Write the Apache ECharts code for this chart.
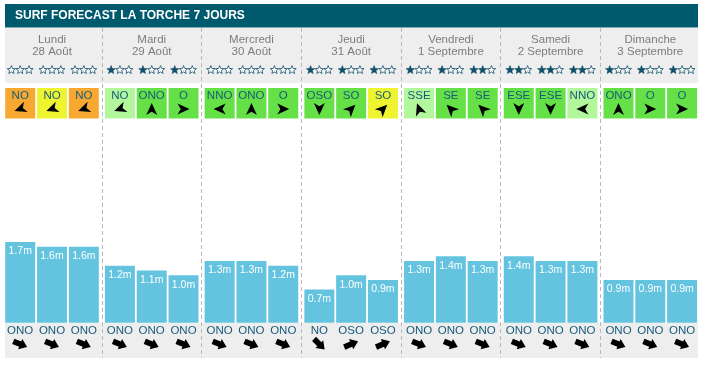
<!DOCTYPE html>
<html><head><meta charset="utf-8">
<script src="https://cdn.jsdelivr.net/npm/echarts@6/dist/echarts.min.js"></script>
<style>html,body{margin:0;padding:0;background:#fff}#c{width:705px;height:366px}</style>
</head><body><div id="c"></div>
<script>
// ---------- data ----------
const chartTitle = 'SURF FORECAST LA TORCHE 7 JOURS';
const days = ['Lundi\n28 Août','Mardi\n29 Août','Mercredi\n30 Août','Jeudi\n31 Août','Vendredi\n1 Septembre','Samedi\n2 Septembre','Dimanche\n3 Septembre'];
const stars = [[0,0,0],[1,1,1],[0,0,0],[1,1,1],[1,1,2],[2,2,2],[1,1,1]];
const windDir = [['NO','NO','NO'],['NO','ONO','O'],['NNO','ONO','O'],['OSO','SO','SO'],['SSE','SE','SE'],['ESE','ESE','NNO'],['ONO','O','O']];
const windLevel = [['orange','yellow','orange'],['light','green','green'],['green','green','green'],['green','green','yellow'],['light','green','green'],['green','green','light'],['green','green','green']];
const waveHeight = [[1.7,1.6,1.6],[1.2,1.1,1.0],[1.3,1.3,1.2],[0.7,1.0,0.9],[1.3,1.4,1.3],[1.4,1.3,1.3],[0.9,0.9,0.9]];
const swellDir = [['ONO','ONO','ONO'],['ONO','ONO','ONO'],['ONO','ONO','ONO'],['NO','OSO','OSO'],['ONO','ONO','ONO'],['ONO','ONO','ONO'],['ONO','ONO','ONO']];

// ---------- style ----------
const FONT = 'Liberation Sans, Arial, sans-serif';
const TEAL = '#165b7a';
const STAR_COLOR = '#0f4f6b';
const LEVEL_COLORS = {orange:'#f7a830', yellow:'#eef530', light:'#b2f79c', green:'#66e047'};
const COMPASS = {N:0,NNE:22.5,NE:45,ENE:67.5,E:90,ESE:112.5,SE:135,SSE:157.5,S:180,SSO:202.5,SO:225,OSO:247.5,O:270,ONO:292.5,NO:315,NNO:337.5};
// on-screen angle (deg, counter-clockwise from east) of the wind arrow icon as drawn in the source
const WIND_ICON_ANGLE = {O:0, ONO:90, NO:200, NNO:180, OSO:270, SO:45, SSE:110, SE:135, ESE:270};
const BAR_W = 30, BAR_GAP_PCT = 6, SLOT = BAR_W * (1 + BAR_GAP_PCT/100);
const GRID_LEFT = 2.15, GRID_W = 698;
const NAV_ARROW = 'M12 5 L0 0 L3.2 5 L0 10 Z';
const BLOCK_ARROW = 'M0 2.4 L6.5 2.4 L6.5 0 L13 5 L6.5 10 L6.5 7.6 L0 7.6 Z';
const STAR_PITCH = 8.8, STAR_R = 4.4, STAR_R0 = 1.9;

const slots = [0,1,2];
const flat = [];
days.forEach((d,i)=>slots.forEach(s=>flat.push([i,s])));

function slotX(api, d, s){ return api.coord([d, 0])[0] + (s-1)*SLOT; }
function starPoints(cx, cy){
  const pts = [];
  for (let k = 0; k < 10; k++) {
    const r = k % 2 ? STAR_R0 : STAR_R;
    const a = -Math.PI/2 + k*Math.PI/5;
    pts.push([cx + r*Math.cos(a), cy + r*Math.sin(a)]);
  }
  return pts;
}

const chart = echarts.init(document.getElementById('c'), null, {renderer:'canvas'});
const grids = [
  {left:GRID_LEFT, width:GRID_W, top:28, height:330},   // frame / separators / header
  {left:GRID_LEFT, width:GRID_W, top:88, height:30.5},  // wind boxes
  {left:GRID_LEFT, width:GRID_W, top:132.7, height:190} // wave bars
];
const xAxes = grids.map((g,i)=>({
  gridIndex:i, type:'category', data:days, boundaryGap:true,
  axisLine:{show:false}, axisTick:{show:false}, axisLabel:{show:false},
  splitLine: i===0 ? {show:true, showMinLine:false, showMaxLine:false, lineStyle:{color:'#b8b8b8', type:[4,3], width:1}} : {show:false}
}));
const yAxes = [
  {gridIndex:0, type:'value', min:0, max:1, show:false},
  {gridIndex:1, type:'value', min:0, max:1, show:false},
  {gridIndex:2, type:'value', min:0, max:4, show:false}
];

const series = [];
// day names
series.push({
  type:'custom', xAxisIndex:0, yAxisIndex:0, data:days.map((d,i)=>[i,0]), z:5,
  renderItem:(params, api)=>({
    type:'text', x: api.coord([api.value(0),0])[0], y: params.coordSys.y + 17.5,
    style:{text: days[params.dataIndex], fill:'#7d7d7d', fontSize:11.5, fontFamily:FONT, lineHeight:12,
      align:'center', verticalAlign:'middle', textAlign:'center', textVerticalAlign:'middle'}
  })
});
// star ratings
series.push({
  type:'custom', xAxisIndex:0, yAxisIndex:0, data:flat, z:5,
  renderItem:(params, api)=>{
    const [d,s] = flat[params.dataIndex];
    const n = stars[d][s];
    const cx = slotX(api,d,s), cy = params.coordSys.y + 42;
    const children = [0,1,2].map(k=>({
      type:'polygon', shape:{points: starPoints(cx + (k-1)*STAR_PITCH, cy)},
      style: k < n ? {fill:STAR_COLOR, stroke:STAR_COLOR, lineWidth:0.6} : {fill:'#ffffff', stroke:STAR_COLOR, lineWidth:0.8}
    }));
    return {type:'group', children};
  }
});
// wind boxes
slots.forEach(s=>{
  series.push({
    type:'bar', xAxisIndex:1, yAxisIndex:1, barWidth:BAR_W, barGap:BAR_GAP_PCT+'%',
    data: days.map((d,i)=>({value:1, itemStyle:{color:LEVEL_COLORS[windLevel[i][s]]}})),
    label:{show:true, position:'insideTop', distance:2, color:TEAL, fontSize:11.5, fontFamily:FONT,
      formatter:p=>windDir[p.dataIndex][s]},
    silent:true
  });
});
// wind arrows
series.push({
  type:'custom', xAxisIndex:1, yAxisIndex:1, data:flat, z:5,
  renderItem:(params, api)=>{
    const [d,s] = flat[params.dataIndex];
    const ang = WIND_ICON_ANGLE[windDir[d][s]];
    return {type:'path', x: slotX(api,d,s), y: api.coord([d,0])[1] - 9.5, rotation: ang*Math.PI/180,
      shape:{pathData:NAV_ARROW, x:-6, y:-5.5, width:12, height:11, layout:'cover'}, style:{fill:'#000'}};
  }
});
// wave bars
slots.forEach(s=>{
  series.push({
    type:'bar', xAxisIndex:2, yAxisIndex:2, barWidth:BAR_W, barGap:BAR_GAP_PCT+'%',
    data: waveHeight.map(d=>d[s]),
    itemStyle:{color:'#64c4df'},
    label:{show:true, position:'insideTop', distance:4, color:'#fff', fontSize:10.5, fontFamily:FONT,
      formatter:p=>p.value.toFixed(1)+'m'},
    silent:true
  });
});
// swell direction labels and arrows
series.push({
  type:'custom', xAxisIndex:2, yAxisIndex:2, data:flat, z:5,
  renderItem:(params, api)=>{
    const [d,s] = flat[params.dataIndex];
    const dir = swellDir[d][s];
    const x = slotX(api,d,s), y0 = api.coord([d,0])[1];
    const toward = (COMPASS[dir] + 180) % 360;
    const ang = 90 - toward;
    return {type:'group', children:[
      {type:'text', x, y: y0 + 8.5, style:{text:dir, fill:TEAL, fontSize:11.5, fontFamily:FONT, align:'center', verticalAlign:'middle', textAlign:'center', textVerticalAlign:'middle'}},
      {type:'path', x, y: y0 + 21.5, rotation: ang*Math.PI/180,
        shape:{pathData:BLOCK_ARROW, x:-7.5, y:-5.5, width:15, height:11, layout:'cover'}, style:{fill:'#000'}}
    ]};
  }
});

chart.setOption({
  animation:false,
  title:{text:chartTitle, left:15, top:10, padding:0, textStyle:{color:'#fff', fontSize:12, fontWeight:'bold', fontFamily:FONT}},
  graphic:[
    {type:'rect', z:-10, shape:{x:5, y:4, width:693, height:23.5}, style:{fill:'#005a6e'}},
    {type:'rect', z:-10, shape:{x:5, y:28, width:693, height:55}, style:{fill:'#eeeeee'}},
    {type:'rect', z:-10, shape:{x:5, y:323, width:693, height:35}, style:{fill:'#eeeeee'}}
  ],
  grid:grids, xAxis:xAxes, yAxis:yAxes, series
});
</script></body></html>
